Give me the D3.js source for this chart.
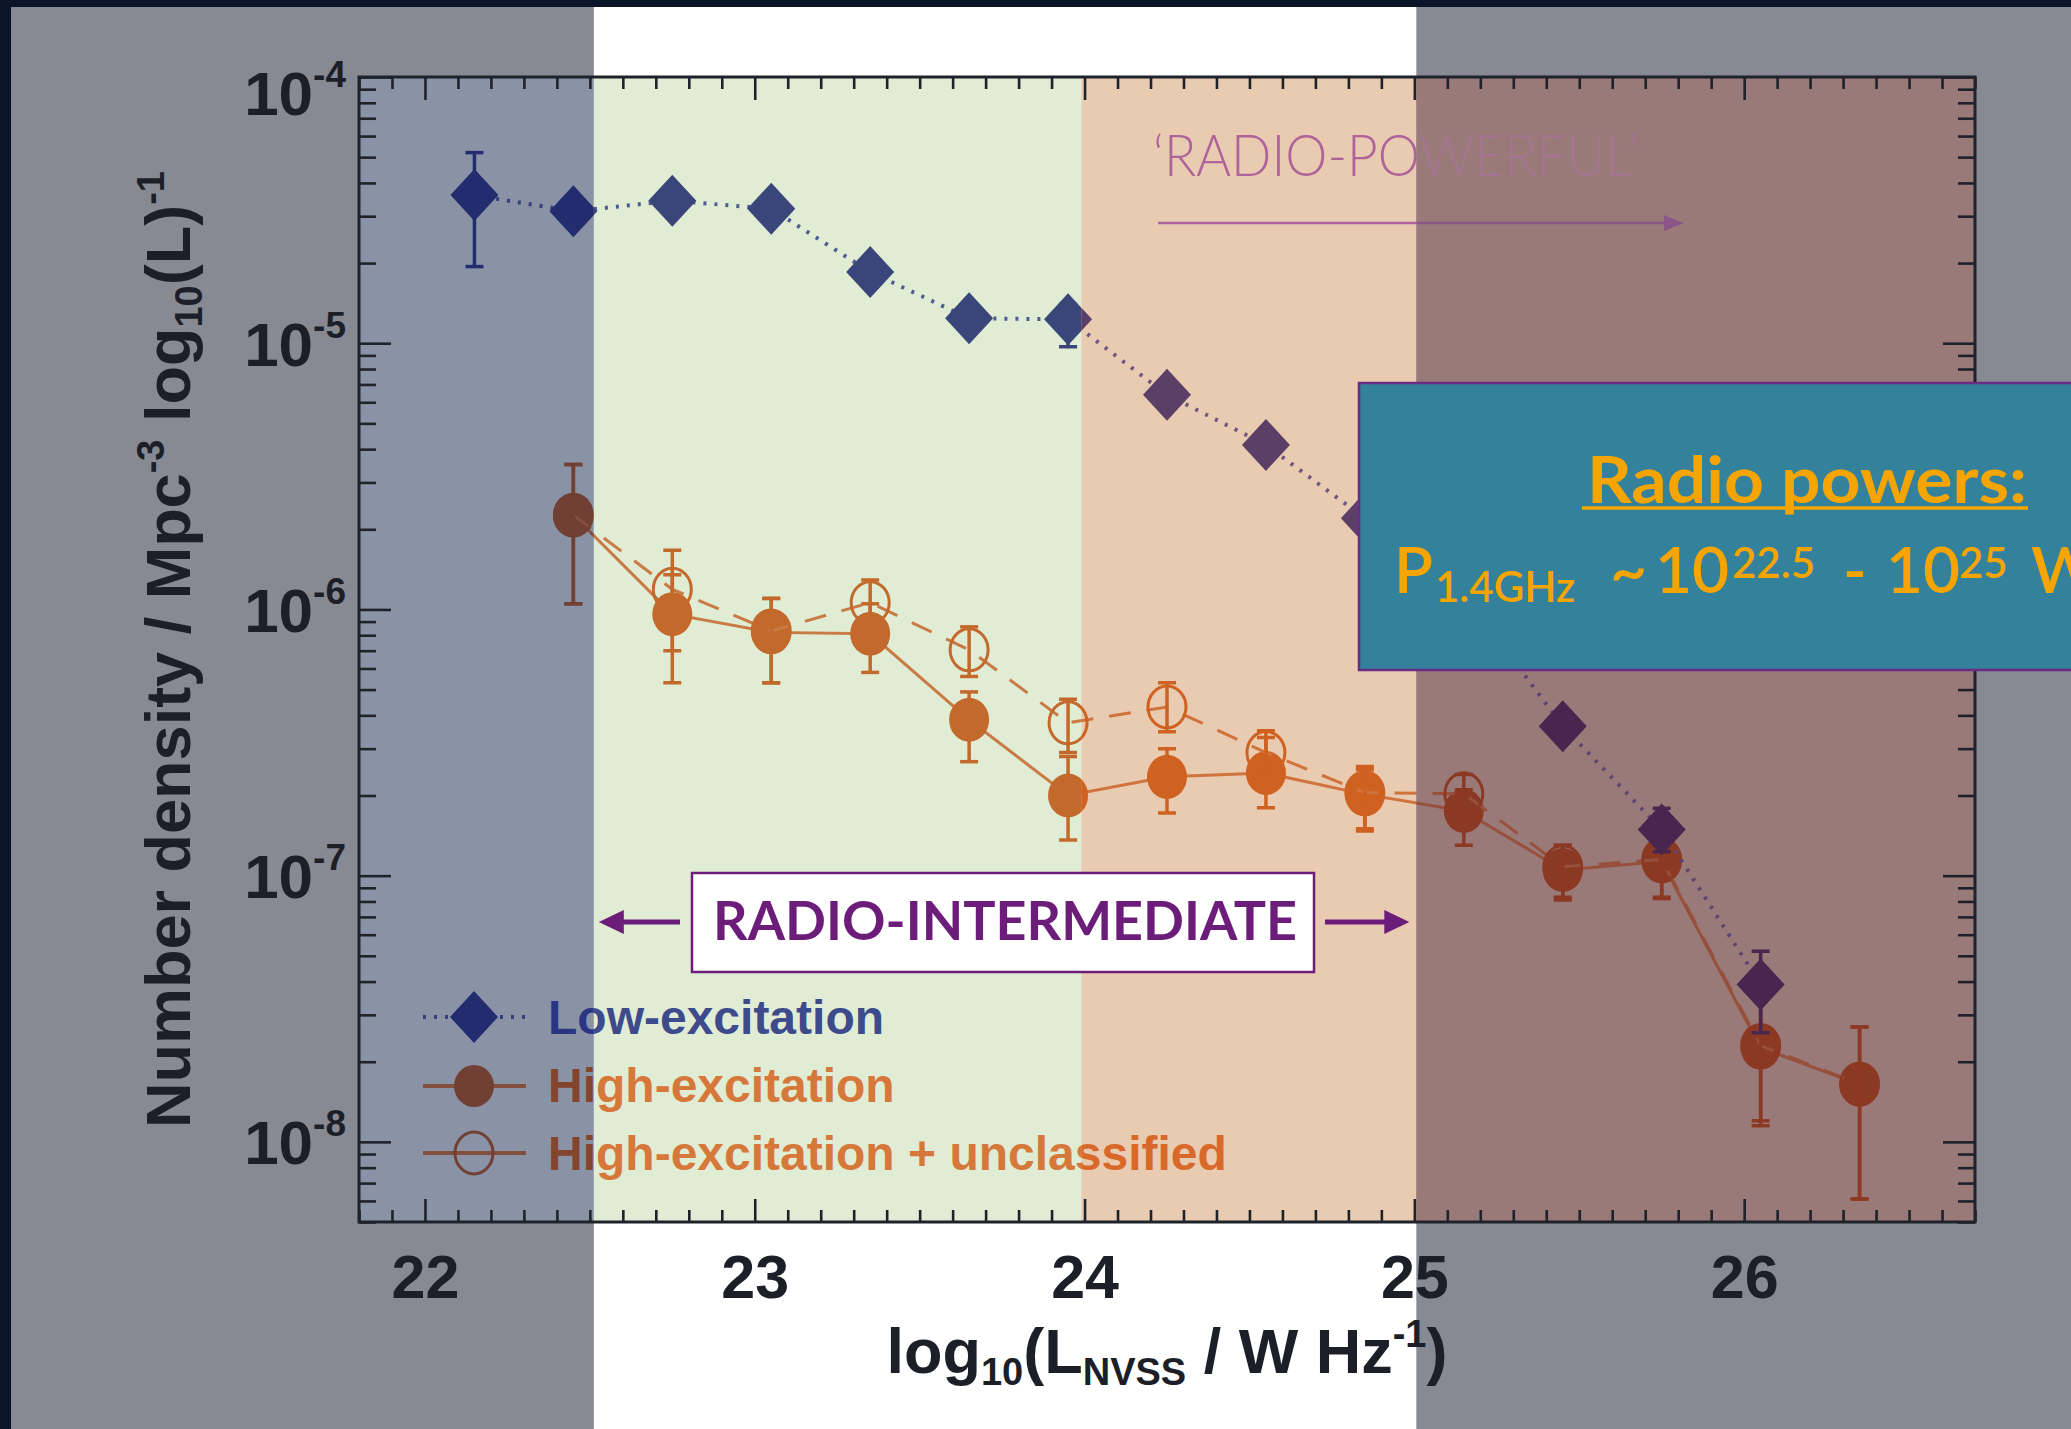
<!DOCTYPE html>
<html>
<head>
<meta charset="utf-8">
<script src="https://cdn.jsdelivr.net/npm/d3@7"></script>
<style>
  body { margin: 0; background: #0b1529; }
  svg { display: block; }
</style>
</head>
<body>
<div id="chart"></div>
<script>
// Low-excitation (diamonds, dotted)
const lowX  = [22.15, 22.45, 22.75, 23.05, 23.35, 23.65, 23.95, 24.25, 24.55, 24.85, 25.15, 25.45, 25.75, 26.05]
const lowY  = [3.6e-5, 3.13e-5, 3.43e-5, 3.2e-5, 1.85e-5, 1.24e-5, 1.23e-5, 6.4e-6, 4.15e-6, 2.2e-6, 1.15e-6, 3.64e-7, 1.49e-7, 3.9e-8]
const lowUp = [5.2e-5, 3.3e-5, 3.6e-5, 3.35e-5, 1.95e-5, 1.3e-5, 1.4e-5, 6.8e-6, 4.4e-6, 2.35e-6, 1.25e-6, 3.9e-7, 1.79e-7, 5.2e-8]
const lowLo = [1.94e-5, 2.95e-5, 3.25e-5, 3.05e-5, 1.75e-5, 1.17e-5, 9.7e-6, 6.0e-6, 3.9e-6, 2.05e-6, 1.05e-6, 3.4e-7, 1.23e-7, 2.57e-8]

// High-excitation (filled circles, solid)
const highX  = [22.45, 22.75, 23.05, 23.35, 23.65, 23.95, 24.25, 24.55, 24.85, 25.15, 25.45, 25.75, 26.05, 26.35]
const highY  = [2.26e-6, 9.6e-7, 8.2e-7, 8.1e-7, 3.85e-7, 2.0e-7, 2.35e-7, 2.43e-7, 2.02e-7, 1.75e-7, 1.05e-7, 1.13e-7, 2.26e-8, 1.64e-8]
const highUp = [3.5e-6, 1.35e-6, 1.1e-6, 1.05e-6, 4.9e-7, 2.8e-7, 3.0e-7, 3.3e-7, 2.57e-7, 2.1e-7, 1.3e-7, 1.35e-7, 3.9e-8, 2.7e-8]
const highLo = [1.05e-6, 5.3e-7, 5.3e-7, 5.8e-7, 2.68e-7, 1.36e-7, 1.72e-7, 1.8e-7, 1.47e-7, 1.3e-7, 8.1e-8, 8.2e-8, 1.15e-8, 6.1e-9]

// High-excitation + unclassified (open circles, dashed)
const allX  = [22.45, 22.75, 23.05, 23.35, 23.65, 23.95, 24.25, 24.55, 24.85, 25.15, 25.45, 25.75, 26.05, 26.35]
const allY  = [2.26e-6, 1.19e-6, 8.3e-7, 1.06e-6, 7.05e-7, 3.75e-7, 4.3e-7, 2.9e-7, 2.05e-7, 2.03e-7, 1.08e-7, 1.15e-7, 2.3e-8, 1.65e-8]
const allUp = [3.5e-6, 1.67e-6, 1.1e-6, 1.29e-6, 8.6e-7, 4.6e-7, 5.3e-7, 3.5e-7, 2.5e-7, 2.4e-7, 1.3e-7, 1.35e-7, 3.9e-8, 2.7e-8]
const allLo = [1.05e-6, 7.0e-7, 5.3e-7, 8.3e-7, 5.6e-7, 2.9e-7, 3.47e-7, 2.3e-7, 1.5e-7, 1.65e-7, 8.3e-8, 8.3e-8, 1.2e-8, 6.1e-9]

const xDomain = [21.8, 26.7]
const yDomain = [5e-9, 1e-4]
const xMajor = [22, 23, 24, 25, 26]
const yMajor = [1e-4, 1e-5, 1e-6, 1e-7, 1e-8]
const yExp = [-4, -5, -6, -7, -8]

// shaded luminosity ranges on the slide: edges in log10(L)
const bandEdges = [21.8, 22.512, 23.99, 25.006, 26.7]

const legendLabels = ['Low-excitation', 'High-excitation', 'High-excitation + unclassified']

// colours of every mark inside each shaded range (the slide overlays tint them)
const palettes = [
  { bg: '#8a93a5', low: '#232c6e', lowLine: '#34407e', high: '#713f33', highLine: '#83503f', lowText: '#2a3584', highText: '#84452f', note: '#a3728f' },
  { bg: '#e1ecd5', low: '#3a4679', lowLine: '#4f5b92', high: '#c2692b', highLine: '#c97a45', lowText: '#3d4b8d', highText: '#d6783a', note: '#b0629a' },
  { bg: '#e8cbb0', low: '#5b3f67', lowLine: '#6f5580', high: '#cf6121', highLine: '#d0733d', lowText: '#3d4b8d', highText: '#d8692a', note: '#b0639a' },
  { bg: '#9a7a78', low: '#48264f', lowLine: '#5e4470', high: '#8c3924', highLine: '#96503c', lowText: '#3d4b8d', highText: '#8c3924', note: '#a57491', arrow: '#8b5687' }
]

const W = 2071, H = 1429
const plot = { left: 359, right: 1975, top: 77, bottom: 1222 }
const axisFont = "'Liberation Sans', Arial, sans-serif"
const slideFont = "Lato, 'Open Sans', sans-serif"

const x = d3.scaleLinear().domain(xDomain).range([plot.left, plot.right])
const y = d3.scaleLog().domain(yDomain).range([plot.bottom, plot.top])

const svg = d3.select('#chart').append('svg')
  .attr('width', W)
  .attr('height', H)

const leftEdge = x(bandEdges[1]), rightEdge = x(bandEdges[3])

// slide background: white, grey overlays on both sides, dark frame
svg.append('rect').attr('width', W).attr('height', H).attr('fill', '#ffffff')
svg.append('rect').attr('x', 11).attr('y', 7).attr('width', leftEdge - 11).attr('height', H - 7).attr('fill', '#878a93')
svg.append('rect').attr('x', rightEdge).attr('y', 7).attr('width', W - rightEdge).attr('height', H - 7).attr('fill', '#878a93')
svg.append('rect').attr('width', W).attr('height', 7).attr('fill', '#0b1529')
svg.append('rect').attr('width', 11).attr('height', H).attr('fill', '#0b1529')

// shaded bands in the plot
svg.append('g').selectAll('rect')
  .data(palettes).enter()
  .append('rect')
  .attr('x', (d, i) => x(bandEdges[i]))
  .attr('y', plot.top)
  .attr('width', (d, i) => x(bandEdges[i + 1]) - x(bandEdges[i]))
  .attr('height', plot.bottom - plot.top)
  .attr('fill', d => d.bg)

// axes
const minorX = d3.range(218, 268).map(d => d / 10).filter(d => !xMajor.includes(Math.round(d * 10) / 10))
const minorY = []
yExp.forEach(e => d3.range(2, 10).forEach(m => {
  const v = m * Math.pow(10, e - 1)
  if (v >= yDomain[0] && v <= yDomain[1]) minorY.push(v)
}))

const axes = svg.append('g').classed('axes', true)
  .attr('color', '#1e222b')
  .style('font-family', axisFont)
  .style('font-weight', 'bold')

const addAxis = (gen, tx, ty) => {
  const g = axes.append('g').attr('transform', 'translate(' + tx + ', ' + ty + ')').call(gen)
  g.select('.domain').remove()
  g.selectAll('line').attr('stroke-width', 2.6)
  return g
}

addAxis(d3.axisBottom(x).tickValues(minorX).tickSizeInner(-12).tickSizeOuter(0).tickFormat(''), 0, plot.bottom)
addAxis(d3.axisTop(x).tickValues(minorX).tickSizeInner(-12).tickSizeOuter(0).tickFormat(''), 0, plot.top)
addAxis(d3.axisTop(x).tickValues(xMajor).tickSizeInner(-23).tickSizeOuter(0).tickFormat(''), 0, plot.top)
const xAxis = addAxis(d3.axisBottom(x).tickValues(xMajor).tickSizeInner(-23).tickSizeOuter(0)
  .tickPadding(33).tickFormat(d3.format('d')), 0, plot.bottom)
xAxis.selectAll('text').attr('font-size', 61).attr('fill', '#1c1f27')

addAxis(d3.axisLeft(y).tickValues(minorY).tickSizeInner(-17).tickSizeOuter(0).tickFormat(''), plot.left, 0)
addAxis(d3.axisRight(y).tickValues(minorY).tickSizeInner(-17).tickSizeOuter(0).tickFormat(''), plot.right, 0)
addAxis(d3.axisRight(y).tickValues(yMajor).tickSizeInner(-32).tickSizeOuter(0).tickFormat(''), plot.right, 0)
const yAxis = addAxis(d3.axisLeft(y).tickValues(yMajor).tickSizeInner(-32).tickSizeOuter(0).tickPadding(13).tickFormat(''), plot.left, 0)
yAxis.selectAll('.tick text').each(function(d, i) {
  const t = d3.select(this)
    .attr('font-size', 62)
    .attr('fill', '#1c1f27')
    .attr('dy', null)
    .attr('y', i === 0 ? 37 : 22)
  t.append('tspan').text('10')
  t.append('tspan').attr('font-size', 37).attr('dy', -28).text(yExp[i])
})

axes.append('rect')
  .attr('x', plot.left).attr('y', plot.top)
  .attr('width', plot.right - plot.left).attr('height', plot.bottom - plot.top)
  .attr('fill', 'none').attr('stroke', '#1e222b').attr('stroke-width', 3)

// axis titles
const xTitle = svg.append('text')
  .attr('x', (plot.left + plot.right) / 2).attr('y', 1373)
  .attr('text-anchor', 'middle')
  .style('font-family', axisFont).style('font-weight', 'bold')
  .attr('font-size', 63).attr('fill', '#1c1f27')
xTitle.append('tspan').text('log')
xTitle.append('tspan').attr('font-size', 38).attr('dy', 12).text('10')
xTitle.append('tspan').attr('dy', -12).text('(L')
xTitle.append('tspan').attr('font-size', 38).attr('dy', 12).text('NVSS')
xTitle.append('tspan').attr('dy', -12).text(' / W Hz')
xTitle.append('tspan').attr('font-size', 38).attr('dy', -26).text('-1')
xTitle.append('tspan').attr('dy', 26).text(')')

const yTitle = svg.append('text')
  .attr('transform', 'translate(190, ' + (plot.top + plot.bottom) / 2 + ') rotate(-90)')
  .attr('text-anchor', 'middle')
  .style('font-family', axisFont).style('font-weight', 'bold')
  .attr('font-size', 63).attr('fill', '#1c1f27')
yTitle.append('tspan').text('Number density / Mpc')
yTitle.append('tspan').attr('font-size', 38).attr('dy', -26).text('-3')
yTitle.append('tspan').attr('dy', 26).text(' log')
yTitle.append('tspan').attr('font-size', 38).attr('dy', 12).text('10')
yTitle.append('tspan').attr('dy', -12).text('(L)')
yTitle.append('tspan').attr('font-size', 38).attr('dy', -26).text('-1')

// data layer, drawn once per shaded range with that range's tint
const defs = svg.append('defs')
const clipEdges = [0, leftEdge, x(bandEdges[2]), rightEdge, W]
palettes.forEach((p, i) => {
  defs.append('clipPath').attr('id', 'clip' + i)
    .append('rect')
    .attr('x', clipEdges[i]).attr('y', 0)
    .attr('width', clipEdges[i + 1] - clipEdges[i]).attr('height', H)
})

const diamond = 'M0,-26L24,0L0,26L-24,0Z'
const line = d3.line().x(d => x(d[0])).y(d => y(d[1]))

const errorBars = (g, xs, up, lo, color) => {
  const eb = g.append('g').attr('stroke', color).attr('stroke-width', 3.5)
  xs.forEach((d, i) => {
    eb.append('line').attr('x1', x(d)).attr('x2', x(d)).attr('y1', y(up[i])).attr('y2', y(lo[i]))
    eb.append('line').attr('x1', x(d) - 9).attr('x2', x(d) + 9).attr('y1', y(up[i])).attr('y2', y(up[i]))
    eb.append('line').attr('x1', x(d) - 9).attr('x2', x(d) + 9).attr('y1', y(lo[i])).attr('y2', y(lo[i]))
  })
}

const drawLayer = (g, p) => {
  // high-excitation
  g.append('path').datum(d3.zip(highX, highY)).attr('d', line)
    .attr('fill', 'none').attr('stroke', p.highLine).attr('stroke-width', 3)
  errorBars(g, highX, highUp, highLo, p.high)
  g.append('g').selectAll('ellipse')
    .data(d3.zip(highX, highY)).enter()
    .append('ellipse')
    .attr('cx', d => x(d[0])).attr('cy', d => y(d[1]))
    .attr('rx', 20).attr('ry', 22)
    .attr('fill', p.high)

  // high-excitation + unclassified
  g.append('path').datum(d3.zip(allX, allY)).attr('d', line)
    .attr('fill', 'none').attr('stroke', p.highLine).attr('stroke-width', 3)
    .attr('stroke-dasharray', '22,16')
  errorBars(g, allX, allUp, allLo, p.high)
  g.append('g').selectAll('ellipse')
    .data(d3.zip(allX, allY)).enter()
    .append('ellipse')
    .attr('cx', d => x(d[0])).attr('cy', d => y(d[1]))
    .attr('rx', 19).attr('ry', 21)
    .attr('fill', 'none').attr('stroke', p.high).attr('stroke-width', 3)

  // low-excitation
  g.append('path').datum(d3.zip(lowX, lowY)).attr('d', line)
    .attr('fill', 'none').attr('stroke', p.lowLine).attr('stroke-width', 4)
    .attr('stroke-dasharray', '3,8')
  errorBars(g, lowX, lowUp, lowLo, p.low)
  g.append('g').selectAll('path')
    .data(d3.zip(lowX, lowY)).enter()
    .append('path')
    .attr('d', diamond)
    .attr('transform', d => 'translate(' + x(d[0]) + ', ' + y(d[1]) + ')')
    .attr('fill', p.low)

  // legend
  const legend = g.append('g').attr('transform', 'translate(474, 1017)')
  legend.append('line').attr('x1', -51).attr('x2', 52).attr('stroke', p.lowLine)
    .attr('stroke-width', 4).attr('stroke-dasharray', '3,8')
  legend.append('path').attr('d', diamond).attr('fill', p.low)
  legend.append('line').attr('x1', -51).attr('x2', 52).attr('y1', 69).attr('y2', 69)
    .attr('stroke', p.highLine).attr('stroke-width', 4)
  legend.append('ellipse').attr('cy', 69).attr('rx', 20).attr('ry', 21).attr('fill', p.high)
  legend.append('line').attr('x1', -51).attr('x2', 52).attr('y1', 136).attr('y2', 136)
    .attr('stroke', p.highLine).attr('stroke-width', 4)
  legend.append('ellipse').attr('cy', 136).attr('rx', 19).attr('ry', 21)
    .attr('fill', 'none').attr('stroke', p.high).attr('stroke-width', 3)
  legend.selectAll('text')
    .data(legendLabels).enter()
    .append('text')
    .attr('x', 74)
    .attr('y', (d, i) => 17 + i * 68)
    .style('font-family', axisFont).style('font-weight', 'bold')
    .attr('font-size', 48)
    .attr('fill', (d, i) => i === 0 ? p.lowText : p.highText)
    .text(d => d)

  // 'RADIO-POWERFUL' note
  g.append('text')
    .attr('x', 1153).attr('y', 176)
    .style('font-family', slideFont).style('font-weight', 300)
    .attr('font-size', 58)
    .attr('textLength', 485).attr('lengthAdjust', 'spacingAndGlyphs')
    .attr('fill', p.note)
    .text('\u2018RADIO-POWERFUL\u2019')
  const ac = p.arrow || p.note
  g.append('line').attr('x1', 1158).attr('x2', 1668).attr('y1', 223).attr('y2', 223)
    .attr('stroke', ac).attr('stroke-width', 2.5)
  g.append('path').attr('d', 'M1684,223L1664,215L1664,231Z').attr('fill', ac)
}

palettes.forEach((p, i) => {
  drawLayer(svg.append('g').attr('clip-path', 'url(#clip' + i + ')'), p)
})

// RADIO-INTERMEDIATE annotation
const purple = '#6c1d7a'
const mid = svg.append('g')
mid.append('rect')
  .attr('x', 692).attr('y', 873).attr('width', 622).attr('height', 99)
  .attr('fill', '#ffffff').attr('stroke', purple).attr('stroke-width', 2.5)
mid.append('text')
  .attr('x', 1005).attr('y', 940)
  .attr('text-anchor', 'middle')
  .style('font-family', slideFont).style('font-weight', 700)
  .attr('font-size', 53)
  .attr('textLength', 584).attr('lengthAdjust', 'spacingAndGlyphs')
  .attr('fill', purple)
  .text('RADIO-INTERMEDIATE')
mid.append('line').attr('x1', 680).attr('x2', leftEdge + 26).attr('y1', 922).attr('y2', 922)
  .attr('stroke', purple).attr('stroke-width', 5)
mid.append('path').attr('d', 'M' + (leftEdge + 5) + ',922l25,-12v24Z').attr('fill', purple)
mid.append('line').attr('x1', 1325).attr('x2', rightEdge - 24).attr('y1', 922).attr('y2', 922)
  .attr('stroke', purple).attr('stroke-width', 5)
mid.append('path').attr('d', 'M' + (rightEdge - 7) + ',922l-25,-12v24Z').attr('fill', purple)

// Radio powers box
const gold = '#f6a400'
const box = svg.append('g').style('font-family', slideFont)
box.append('rect')
  .attr('x', 1359).attr('y', 383).attr('width', 760).attr('height', 287)
  .attr('fill', '#33819a').attr('stroke', '#6a2b84').attr('stroke-width', 2.5)
box.append('text')
  .attr('x', 1587).attr('y', 503)
  .style('font-weight', 700)
  .attr('font-size', 65)
  .attr('textLength', 440).attr('lengthAdjust', 'spacingAndGlyphs')
  .attr('fill', gold)
  .text('Radio powers:')
box.append('line').attr('x1', 1582).attr('x2', 2028).attr('y1', 508).attr('y2', 508)
  .attr('stroke', gold).attr('stroke-width', 3.5)

const pw = box.append('text')
  .attr('y', 593)
  .style('font-weight', 600)
  .attr('font-size', 64)
  .attr('fill', gold)
pw.append('tspan').attr('x', 1394).text('P')
pw.append('tspan').attr('x', 1435).attr('dy', 9).attr('font-size', 42).text('1.4GHz')
pw.append('tspan').attr('x', 1610).attr('dy', -9).text('~')
pw.append('tspan').attr('x', 1655).text('10')
pw.append('tspan').attr('x', 1732).attr('dy', -15).attr('font-size', 42).text('22.5')
pw.append('tspan').attr('x', 1843).attr('dy', 15).text('-')
pw.append('tspan').attr('x', 1886).text('10')
pw.append('tspan').attr('x', 1959).attr('dy', -15).attr('font-size', 42).text('25')
pw.append('tspan').attr('x', 2031).attr('dy', 15).text('W')
</script>
</body>
</html>
